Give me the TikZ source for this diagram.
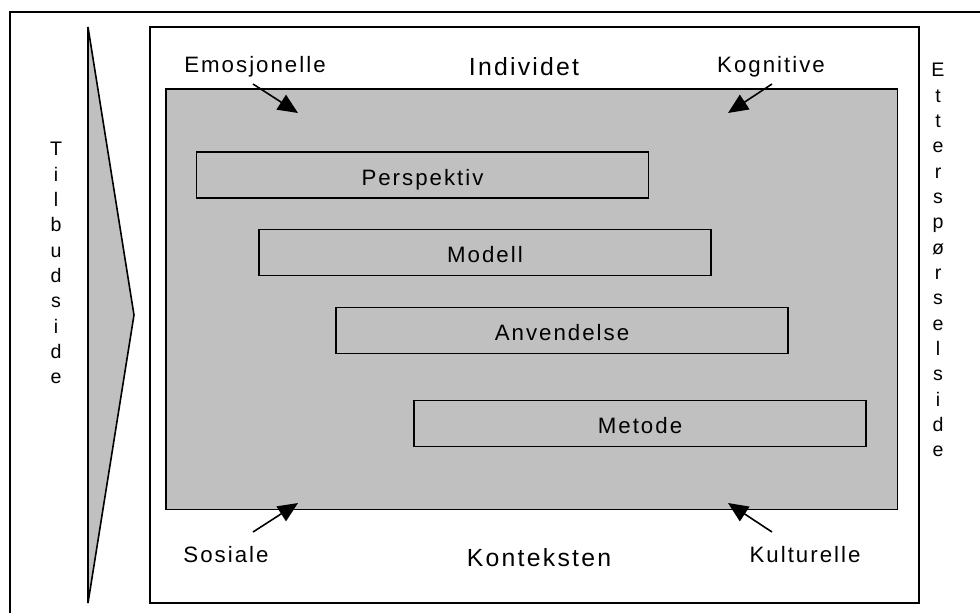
\documentclass[tikz,border=0pt]{standalone}
\usepackage{fontspec}
\setmainfont{Liberation Sans}[LetterSpace=9]
\usetikzlibrary{arrows.meta}
\definecolor{panelgray}{HTML}{C0C0C0}
\begin{document}
\begin{tikzpicture}[x=0.75pt,y=-0.75pt,
  frame/.style={draw=black,line width=1.5pt},
  thinframe/.style={draw=black,line width=1.2pt},
  stepbox/.style={thinframe,fill=panelgray,minimum width=339pt,minimum height=34.5pt,
    inner sep=0pt,text height=15pt,text depth=0pt,font=\fontsize{16.7}{19}\selectfont},
  lbl/.style={anchor=base,inner sep=0pt,font=\fontsize{16.7}{19}\selectfont},
  biglbl/.style={anchor=base,inner sep=0pt,font=\fontsize{18.6}{21}\selectfont},
  vtext/.style={anchor=north,inner sep=0pt,align=center,font=\fontsize{14.7}{19}\selectfont},
  pointer/.style={line width=1.2pt,-{Triangle[length=15pt,width=13pt]}}]
\useasboundingbox (0,0) rectangle (980,612);
\clip (0,0) rectangle (980,612);

% outer frame, running past the page on the right and bottom
\draw[frame] (9.5,11.5) rectangle (1000,630);

% supply-side wedge
\draw[thinframe,fill=panelgray] (88,27) -- (134,315) -- (88,603) -- cycle;

% white context box and grey individual panel
\draw[frame,fill=white] (150,27) rectangle (918.5,603);
\draw[thinframe,fill=panelgray] (166,89) rectangle (897.5,509.5);

% the four staggered levels
\node[stepbox] (persp) at (422.5,175)   {Perspektiv};
\node[stepbox] (modell) at (485,252.5)  {Modell};
\node[stepbox] (anv) at (562,330.5)     {Anvendelse};
\node[stepbox] (metode) at (640,423.5)  {Metode};

% labels round the panel
\node[lbl] (emo) at (255,72)    {Emosjonelle};
\node[lbl] (kog) at (771,72)    {Kognitive};
\node[lbl] (sos) at (226,562)   {Sosiale};
\node[lbl] (kul) at (805,562)   {Kulturelle};
\node[biglbl] (ind) at (524,75)  {Individet};
\node[biglbl] (kon) at (539,566) {Konteksten};

% vertical side texts
\node[vtext] (tilbud) at (56,142) {T\\i\\l\\b\\u\\d\\s\\i\\d\\e};
\node[vtext] (etter) at (938,63)  {E\\t\\t\\e\\r\\s\\p\\ø\\r\\s\\e\\l\\s\\i\\d\\e};

% pointers into the panel
\coordinate (emoS) at (253,84);   \coordinate (emoT) at (298,113);
\coordinate (kogS) at (772,84);   \coordinate (kogT) at (728,113);
\coordinate (sosS) at (253,532);  \coordinate (sosT) at (298,503);
\coordinate (kulS) at (772,532);  \coordinate (kulT) at (728,503);
\draw[pointer] (emoS) -- (emoT);
\draw[pointer] (kogS) -- (kogT);
\draw[pointer] (sosS) -- (sosT);
\draw[pointer] (kulS) -- (kulT);
\end{tikzpicture}
\end{document}
